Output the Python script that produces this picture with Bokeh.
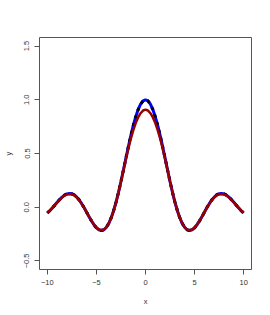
from bokeh.plotting import figure
from bokeh.embed import file_html
from bokeh.resources import INLINE
from bokeh.models import FixedTicker

x_vals = [-10.0, -9.75, -9.5, -9.25, -9.0, -8.75, -8.5, -8.25, -8.0, -7.75, -7.5, -7.25, -7.0, -6.75, -6.5, -6.25,
          -6.0, -5.75, -5.5, -5.25, -5.0, -4.75, -4.5, -4.25, -4.0, -3.75, -3.5, -3.25, -3.0, -2.75, -2.5, -2.25,
          -2.0, -1.75, -1.5, -1.25, -1.0, -0.75, -0.5, -0.25, 0.0, 0.25, 0.5, 0.75, 1.0, 1.25, 1.5, 1.75,
          2.0, 2.25, 2.5, 2.75, 3.0, 3.25, 3.5, 3.75, 4.0, 4.25, 4.5, 4.75, 5.0, 5.25, 5.5, 5.75,
          6.0, 6.25, 6.5, 6.75, 7.0, 7.25, 7.5, 7.75, 8.0, 8.25, 8.5, 8.75, 9.0, 9.25, 9.5, 9.75, 10.0]

true_y = [-0.054, -0.033, -0.008, 0.019, 0.046, 0.071, 0.094, 0.112, 0.124, 0.128, 0.125, 0.114, 0.094, 0.067, 0.033, -0.005,
          -0.047, -0.088, -0.128, -0.164, -0.192, -0.210, -0.217, -0.211, -0.189, -0.152, -0.100, -0.033, 0.047, 0.139, 0.239, 0.346,
          0.455, 0.562, 0.665, 0.759, 0.841, 0.909, 0.959, 0.990, 1.000, 0.990, 0.959, 0.909, 0.841, 0.759, 0.665, 0.562,
          0.455, 0.346, 0.239, 0.139, 0.047, -0.033, -0.100, -0.152, -0.189, -0.211, -0.217, -0.210, -0.192, -0.164, -0.128, -0.088,
          -0.047, -0.005, 0.033, 0.067, 0.094, 0.114, 0.125, 0.128, 0.124, 0.112, 0.094, 0.071, 0.046, 0.019, -0.008, -0.033, -0.054]

fit_y = [-0.052, -0.031, -0.007, 0.019, 0.045, 0.069, 0.091, 0.108, 0.119, 0.123, 0.120, 0.109, 0.090, 0.064, 0.031, -0.006,
         -0.046, -0.087, -0.126, -0.161, -0.189, -0.208, -0.215, -0.209, -0.188, -0.152, -0.101, -0.035, 0.044, 0.136, 0.237, 0.343,
         0.448, 0.547, 0.637, 0.716, 0.783, 0.836, 0.875, 0.900, 0.908, 0.900, 0.875, 0.836, 0.783, 0.716, 0.637, 0.547,
         0.448, 0.343, 0.237, 0.136, 0.044, -0.035, -0.101, -0.152, -0.188, -0.209, -0.215, -0.208, -0.189, -0.161, -0.126, -0.087,
         -0.046, -0.006, 0.031, 0.064, 0.090, 0.109, 0.120, 0.123, 0.119, 0.108, 0.091, 0.069, 0.045, 0.019, -0.007, -0.031, -0.052]

x_ticks = [-10, -5, 0, 5, 10]
x_tick_labels = ["\u221210", "\u22125", "0", "5", "10"]
y_ticks = [-0.5, 0.0, 0.5, 1.0, 1.5]
y_tick_labels = ["\u22120.5", "0.0", "0.5", "1.0", "1.5"]

FONT = "Liberation Sans"
AX = "#555555"

p = figure(width=268, height=313, output_backend="svg", toolbar_location=None,
           x_range=(-10.8, 10.8), y_range=(-0.58, 1.58),
           min_border_left=37, min_border_top=37, min_border_right=17, min_border_bottom=44)
p.background_fill_color = "white"
p.border_fill_color = "white"
p.outline_line_color = AX
p.outline_line_width = 1
p.xgrid.visible = False
p.ygrid.visible = False

p.line(x_vals, true_y, line_color="#0000FF", line_width=3)
p.line(x_vals, true_y, line_color="black", line_width=3, line_dash="3 5")
p.line(x_vals, fit_y, line_color="#990000", line_width=2.5)

p.xaxis.ticker = FixedTicker(ticks=x_ticks)
p.xaxis.major_label_overrides = {t: l for t, l in zip(x_ticks, x_tick_labels)}
p.yaxis.ticker = FixedTicker(ticks=y_ticks)
p.yaxis.major_label_overrides = {t: l for t, l in zip(y_ticks, y_tick_labels)}
p.xaxis.axis_label = "x"
p.yaxis.axis_label = "y"
p.yaxis.major_label_orientation = "vertical"

for ax in (p.xaxis[0], p.yaxis[0]):
    ax.axis_line_color = None
    ax.major_tick_line_color = AX
    ax.major_tick_out = 5
    ax.major_tick_in = 0
    ax.minor_tick_line_color = None
    ax.major_label_text_font = FONT
    ax.major_label_text_font_size = "7.5px"
    ax.major_label_text_color = "#333333"
    ax.major_label_standoff = 5
    ax.axis_label_text_font = FONT
    ax.axis_label_text_font_size = "7.5px"
    ax.axis_label_text_font_style = "normal"
    ax.axis_label_text_color = "#333333"
    ax.axis_label_standoff = 9
p.yaxis[0].axis_label_standoff = 9

open("out.html", "w").write(file_html(p, INLINE))
